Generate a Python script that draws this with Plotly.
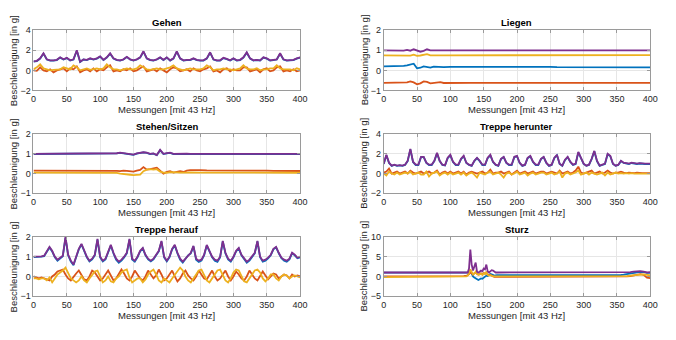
import plotly.graph_objects as go

# ---------------------------------------------------------------- colours
C_X = "#0072BD"   # x-Achse
C_Y = "#D95319"   # y-Achse
C_Z = "#EDB120"   # z-Achse
C_M = "#7E2F8E"   # Betrag

# ---------------------------------------------------------------- Gehen
gehen_t = list(range(0, 401, 5))
gehen_x = [0.88, 0.93, 1.17, 1.67, 1.08, 0.98, 0.98, 1.03, 1.27, 1.08,
           1.22, 0.98, 1.08, 1.96, 0.83, 1.08, 1.03, 1.17, 1.08, 1.17,
           1.37, 1.03, 1.27, 1.66, 1.17, 1.03, 0.98, 1.08, 1.32, 1.08,
           0.98, 1.08, 1.27, 1.86, 1.17, 1.03, 0.98, 1.08, 1.27, 1.03,
           1.27, 0.98, 1.17, 1.86, 1.17, 0.98, 1.03, 1.03, 1.17, 1.03,
           0.98, 0.98, 1.17, 1.76, 1.08, 0.98, 0.98, 1.22, 1.12, 0.98,
           1.17, 0.98, 1.03, 1.27, 1.76, 1.17, 0.98, 1.03, 0.98, 1.27,
           1.17, 0.98, 1.03, 1.08, 1.66, 1.08, 0.98, 0.98, 1.03, 1.17,
           1.27]
gehen_y = [0.0, -0.05, 0.3, 0.0, -0.1, 0.1, -0.2, 0.0, 0.1, 0.2,
           -0.1, 0.2, 0.1, 0.4, -0.2, 0.0, 0.1, -0.1, 0.2, -0.1,
           0.1, 0.0, 0.3, 0.5, -0.1, 0.0, -0.1, 0.1, 0.0, 0.2,
           -0.1, 0.0, 0.2, 0.4, -0.1, 0.0, 0.1, -0.1, 0.2, 0.0,
           -0.2, 0.1, 0.3, 0.2, -0.1, 0.0, 0.1, -0.1, 0.2, 0.0,
           -0.1, 0.1, 0.2, 0.4, -0.1, 0.0, -0.2, 0.1, 0.2, -0.1,
           0.1, 0.0, 0.0, 0.3, 0.3, -0.1, 0.0, 0.1, -0.2, 0.1,
           0.2, -0.1, 0.0, 0.3, 0.4, -0.1, 0.0, -0.1, 0.1, -0.1,
           0.0]
gehen_z = [0.1, 0.3, 0.6, 0.2, 0.1, 0.0, 0.05, 0.1, 0.1, 0.3,
           0.2, 0.1, 0.5, 0.3, 0.0, 0.1, 0.2, 0.05, 0.1, 0.2,
           0.1, 0.2, 0.6, 0.3, 0.1, 0.1, 0.0, 0.1, 0.2, 0.1,
           0.1, 0.2, 0.5, 0.3, 0.1, 0.05, 0.1, 0.2, 0.1, 0.1,
           0.2, 0.3, 0.5, 0.2, 0.1, 0.0, 0.1, 0.2, 0.1, 0.1,
           0.1, 0.2, 0.5, 0.3, 0.0, 0.1, 0.1, 0.2, 0.1, 0.1,
           0.0, 0.1, 0.2, 0.5, 0.2, 0.1, 0.1, 0.2, 0.0, 0.1,
           0.1, 0.2, 0.2, 0.5, 0.2, 0.1, 0.1, 0.1, 0.0, 0.2,
           0.1]
gehen_m = [0.9, 0.95, 1.2, 1.7, 1.1, 1.0, 1.0, 1.05, 1.3, 1.1,
           1.25, 1.0, 1.1, 2.0, 0.85, 1.1, 1.05, 1.2, 1.1, 1.2,
           1.4, 1.05, 1.3, 1.7, 1.2, 1.05, 1.0, 1.1, 1.35, 1.1,
           1.0, 1.1, 1.3, 1.9, 1.2, 1.05, 1.0, 1.1, 1.3, 1.05,
           1.3, 1.0, 1.2, 1.9, 1.2, 1.0, 1.05, 1.05, 1.2, 1.05,
           1.0, 1.0, 1.2, 1.8, 1.1, 1.0, 1.0, 1.25, 1.15, 1.0,
           1.2, 1.0, 1.05, 1.3, 1.8, 1.2, 1.0, 1.05, 1.0, 1.3,
           1.2, 1.0, 1.05, 1.1, 1.7, 1.1, 1.0, 1.0, 1.05, 1.2,
           1.3]

# ---------------------------------------------------------------- Liegen
liegen_t = [0, 10, 20, 30, 35, 40, 45, 50, 55, 60, 65, 70, 75, 80, 85, 90] + list(range(100, 401, 10))
liegen_x = [0.2, 0.2, 0.19, 0.22, 0.25, 0.3, 0.33, 0.1, 0.13, 0.2, 0.18, 0.14, 0.19, 0.17, 0.17, 0.16,
            0.17, 0.17, 0.17, 0.17, 0.17, 0.18, 0.2, 0.17, 0.17, 0.17,
            0.17, 0.17, 0.17, 0.17, 0.17, 0.17, 0.16, 0.16, 0.16, 0.16,
            0.16, 0.16, 0.16, 0.16, 0.16, 0.16, 0.15, 0.15, 0.15, 0.15,
            0.15]
liegen_y = [-0.62, -0.62, -0.62, -0.6, -0.6, -0.55, -0.6, -0.7, -0.65, -0.55, -0.58, -0.65, -0.63, -0.62, -0.59, -0.63,
            -0.62, -0.62, -0.62, -0.62, -0.62, -0.62, -0.62, -0.62, -0.62, -0.62,
            -0.62, -0.62, -0.62, -0.62, -0.62, -0.62, -0.62, -0.62, -0.62, -0.62,
            -0.62, -0.62, -0.62, -0.62, -0.62, -0.62, -0.62, -0.62, -0.62, -0.62,
            -0.62]
liegen_z = [0.75, 0.75, 0.75, 0.75, 0.76, 0.73, 0.78, 0.72, 0.74, 0.76, 0.81, 0.75, 0.74, 0.75, 0.75, 0.75,
            0.75, 0.75, 0.75, 0.75, 0.75, 0.75, 0.75, 0.75, 0.75, 0.75,
            0.75, 0.75, 0.75, 0.75, 0.75, 0.75, 0.75, 0.75, 0.75, 0.75,
            0.75, 0.75, 0.76, 0.76, 0.76, 0.76, 0.76, 0.76, 0.76, 0.76,
            0.76]
liegen_m = [1.0, 1.0, 1.0, 0.98, 1.02, 0.98, 1.05, 1.0, 0.93, 0.97, 1.05, 1.0, 1.0, 0.99, 1.0, 1.0,
            1.0, 1.0, 1.0, 1.0, 1.0, 1.0, 1.0, 1.0, 1.0, 1.0,
            1.0, 1.0, 1.0, 1.0, 1.0, 1.0, 1.0, 1.0, 1.0, 1.0,
            1.0, 1.0, 1.0, 1.0, 1.0, 1.0, 1.0, 1.0, 1.0, 1.0,
            1.0]

# ---------------------------------------------------------------- Stehen/Sitzen
stehen_t = list(range(0, 121, 10)) + list(range(125, 241, 5)) + list(range(250, 401, 10))
stehen_x = [0.99, 0.99, 0.99, 0.99, 0.99, 0.99, 0.99, 0.99, 0.99, 0.99, 0.99, 0.99, 0.99,
            1.02, 1.05, 1.02, 0.99, 0.98, 0.95, 1.01, 1.04, 1.07, 1.05, 0.99, 1.01,
            0.93, 1.18, 0.99, 1.02, 1.05, 0.99, 1.0, 0.99, 0.99, 1.0, 0.99, 0.99,
            0.99, 0.99, 0.99, 0.99, 0.99, 0.99, 0.99, 0.99, 0.99, 0.99, 0.99, 0.99,
            0.99, 0.99, 0.99, 0.99]
stehen_y = [0.15, 0.15, 0.16, 0.15, 0.15, 0.16, 0.16, 0.17, 0.16, 0.16, 0.17, 0.16, 0.15,
            0.14, 0.12, 0.15, 0.14, 0.12, 0.1, 0.15, 0.18, 0.33, 0.2, 0.22, 0.25,
            0.3, 0.15, 0.0, 0.08, 0.12, 0.05, 0.1, 0.12, 0.08, 0.15, 0.17, 0.16,
            0.17, 0.16, 0.16, 0.17, 0.17, 0.16, 0.16, 0.18, 0.17, 0.16, 0.15, 0.14,
            0.14, 0.13, 0.13, 0.13]
stehen_z = [0.05, 0.05, 0.04, 0.05, 0.05, 0.05, 0.06, 0.06, 0.05, 0.05, 0.06, 0.05, 0.05,
            0.03, 0.0, -0.03, -0.05, -0.06, -0.08, -0.07, -0.05, 0.12, 0.2, 0.22, 0.2,
            0.22, 0.1, 0.05, 0.04, 0.07, 0.05, 0.06, 0.05, 0.04, 0.05, 0.06, 0.05,
            0.05, 0.05, 0.05, 0.04, 0.04, 0.05, 0.05, 0.05, 0.05, 0.05, 0.04, 0.04,
            0.05, 0.04, 0.04, 0.04]
stehen_m = [1.0, 1.0, 1.0, 1.0, 1.0, 1.0, 1.0, 1.0, 1.0, 1.0, 1.0, 1.0, 1.0,
            1.03, 1.06, 1.03, 1.0, 0.99, 0.96, 1.02, 1.05, 1.08, 1.06, 1.0, 1.02,
            0.94, 1.2, 1.0, 1.03, 1.06, 1.0, 1.01, 1.0, 1.0, 1.01, 1.0, 1.0,
            1.0, 1.0, 1.0, 1.0, 1.0, 1.0, 1.0, 1.0, 1.0, 1.0, 1.0, 1.0,
            1.0, 1.0, 1.0, 1.0]

# ---------------------------------------------------------------- Treppe herunter
runter_t = list(range(0, 401, 4))
runter_x = [0.97, 1.85, 1.07, 0.78, 0.87, 0.78, 0.82, 0.78, 0.87, 1.26,
            2.45, 1.17, 0.87, 0.87, 1.66, 1.66, 1.07, 0.87, 0.87, 1.26,
            2.05, 1.26, 0.87, 0.82, 1.56, 1.85, 1.17, 0.87, 0.87, 1.46,
            1.75, 1.07, 0.87, 0.78, 1.26, 1.56, 1.26, 0.87, 0.87, 1.56,
            1.85, 1.17, 0.87, 0.78, 1.46, 1.66, 1.07, 0.87, 0.87, 1.66,
            1.75, 1.07, 0.78, 0.87, 1.56, 1.75, 1.17, 0.87, 0.87, 1.46,
            1.66, 1.07, 0.78, 0.87, 1.56, 1.85, 0.97, 0.78, 1.36, 1.66,
            1.17, 0.87, 0.97, 2.15, 1.56, 0.97, 0.78, 0.87, 1.46, 2.25,
            1.26, 0.78, 0.87, 0.97, 1.95, 1.75, 0.97, 0.78, 0.87, 1.26,
            1.07, 1.02, 0.97, 1.07, 1.02, 0.97, 1.02, 0.97, 0.97, 0.97,
            0.97]
runter_y = [0.1, 0.2, 0.5, 0.0, 0.1, 0.2, 0.0, 0.1, 0.2, 0.0,
            0.3, 0.1, 0.0, 0.1, 0.2, 0.0, 0.1, 0.2, 0.0, 0.1,
            0.3, -0.1, 0.1, 0.2, 0.0, 0.2, 0.0, 0.1, 0.2, 0.0,
            0.2, -0.1, 0.1, 0.2, 0.1, 0.0, 0.1, 0.2, 0.0, 0.1,
            0.4, 0.0, 0.1, 0.1, 0.2, 0.0, 0.1, 0.2, -0.1, 0.1,
            0.3, 0.0, 0.1, 0.2, 0.0, 0.1, 0.2, 0.0, 0.1, 0.2,
            0.2, 0.0, 0.1, 0.2, 0.1, 0.0, 0.3, 0.0, 0.1, 0.2,
            0.0, 0.1, 0.3, 0.7, 0.1, 0.0, 0.1, 0.2, 0.3, 0.0,
            0.1, 0.2, 0.0, 0.1, 0.3, 0.1, 0.0, 0.1, 0.1, 0.2,
            0.1, 0.05, 0.1, 0.05, 0.05, 0.1, 0.05, 0.05, 0.05, 0.05,
            0.05]
runter_z = [0.0, -0.2, 0.2, 0.0, -0.1, 0.1, -0.1, 0.0, 0.1, 0.0,
            0.2, -0.1, 0.0, 0.1, -0.1, -0.1, 0.2, -0.3, 0.0, 0.1,
            0.2, -0.2, 0.0, 0.1, -0.1, 0.1, -0.1, 0.0, 0.1, -0.1,
            0.1, -0.2, 0.0, 0.1, -0.1, -0.4, 0.1, 0.0, -0.1, 0.1,
            0.2, -0.1, 0.0, 0.1, -0.1, -0.4, 0.0, 0.1, -0.1, 0.0,
            0.2, -0.1, 0.0, 0.1, -0.2, 0.0, 0.1, -0.1, 0.0, 0.1,
            0.1, -0.1, 0.0, 0.1, -0.1, 0.0, 0.2, -0.4, 0.0, 0.1,
            -0.1, 0.0, 0.1, 0.3, -0.1, 0.0, 0.1, -0.1, 0.1, 0.0,
            -0.1, 0.0, 0.1, -0.2, 0.1, -0.1, 0.0, 0.1, 0.0, 0.05,
            0.0, 0.05, 0.0, 0.05, 0.0, 0.0, 0.05, 0.0, 0.0, 0.0,
            0.0]
runter_m = [1.0, 1.9, 1.1, 0.8, 0.9, 0.8, 0.85, 0.8, 0.9, 1.3,
            2.5, 1.2, 0.9, 0.9, 1.7, 1.7, 1.1, 0.9, 0.9, 1.3,
            2.1, 1.3, 0.9, 0.85, 1.6, 1.9, 1.2, 0.9, 0.9, 1.5,
            1.8, 1.1, 0.9, 0.8, 1.3, 1.6, 1.3, 0.9, 0.9, 1.6,
            1.9, 1.2, 0.9, 0.8, 1.5, 1.7, 1.1, 0.9, 0.9, 1.7,
            1.8, 1.1, 0.8, 0.9, 1.6, 1.8, 1.2, 0.9, 0.9, 1.5,
            1.7, 1.1, 0.8, 0.9, 1.6, 1.9, 1.0, 0.8, 1.4, 1.7,
            1.2, 0.9, 1.0, 2.2, 1.6, 1.0, 0.8, 0.9, 1.5, 2.3,
            1.3, 0.8, 0.9, 1.0, 2.0, 1.8, 1.0, 0.8, 0.9, 1.3,
            1.1, 1.05, 1.0, 1.1, 1.05, 1.0, 1.05, 1.0, 1.0, 1.0,
            1.0]

# ---------------------------------------------------------------- Treppe herauf
rauf_t = list(range(0, 401, 4))
rauf_x = [0.98, 0.98, 0.98, 1.0, 1.03, 1.27, 1.47, 1.27, 0.97, 0.8,
          0.92, 1.02, 1.95, 1.07, 0.76, 0.57, 0.97, 1.37, 1.62, 1.27,
          0.97, 0.76, 0.86, 1.07, 1.86, 0.97, 0.76, 0.86, 1.26, 1.57,
          1.16, 0.84, 0.69, 0.8, 0.96, 1.17, 1.86, 0.86, 0.75, 0.97,
          1.27, 1.42, 1.07, 0.86, 0.76, 0.86, 1.07, 1.27, 1.76, 0.97,
          0.76, 0.97, 1.37, 1.57, 1.17, 0.85, 0.7, 0.86, 1.07, 1.17,
          1.52, 0.85, 0.74, 0.8, 1.07, 1.57, 1.27, 0.97, 0.8, 0.74,
          0.96, 1.77, 1.17, 0.86, 0.75, 0.97, 1.27, 1.42, 1.07, 0.86,
          0.69, 0.8, 0.97, 1.17, 1.77, 0.97, 0.75, 0.8, 0.92, 1.07,
          1.37, 1.47, 1.17, 0.92, 0.8, 0.75, 0.86, 1.17, 1.07, 0.92,
          0.97]
rauf_y = [0.0, -0.05, -0.1, -0.05, -0.1, -0.15, -0.2, 0.0, 0.1, 0.25,
          0.3, 0.35, 0.1, -0.1, -0.2, 0.0, 0.15, 0.3, 0.1, -0.15,
          -0.2, 0.0, 0.3, 0.2, 0.0, -0.2, -0.1, 0.1, 0.3, 0.05,
          -0.2, -0.1, 0.1, 0.35, 0.15, -0.1, -0.2, 0.0, 0.3, 0.1,
          -0.1, -0.2, 0.0, 0.3, 0.1, -0.1, 0.05, 0.35, 0.1, -0.2,
          -0.1, 0.1, 0.3, 0.0, -0.25, -0.1, 0.15, 0.3, 0.05, -0.1,
          -0.2, 0.0, 0.3, 0.1, -0.1, -0.15, 0.1, 0.3, 0.0, -0.2,
          -0.1, 0.1, 0.3, 0.0, -0.2, 0.0, 0.25, 0.1, -0.1, -0.2,
          0.0, 0.3, 0.1, -0.1, -0.2, 0.0, 0.25, 0.05, -0.15, 0.0,
          0.15, 0.1, -0.1, 0.0, 0.1, 0.05, -0.1, 0.1, 0.0, 0.05,
          0.0]
rauf_z = [-0.1, -0.1, -0.15, -0.1, -0.1, -0.2, -0.05, -0.3, -0.1, 0.1,
          0.2, 0.3, 0.45, 0.2, -0.1, -0.2, -0.3, -0.2, 0.0, -0.2,
          -0.3, -0.1, 0.1, 0.25, 0.3, 0.0, -0.3, -0.2, 0.0, -0.25,
          -0.3, -0.1, 0.0, 0.2, 0.3, 0.35, -0.05, -0.3, -0.2, -0.1,
          -0.1, -0.3, -0.15, 0.1, 0.25, 0.35, 0.1, -0.2, -0.3, -0.1,
          -0.2, -0.3, -0.1, 0.1, 0.3, 0.45, 0.3, 0.0, -0.2, -0.3,
          -0.1, 0.1, 0.3, 0.35, 0.1, -0.2, -0.3, -0.1, 0.1, 0.3,
          0.35, 0.1, -0.2, -0.3, -0.1, 0.2, 0.35, 0.3, 0.0, -0.25,
          -0.3, -0.1, 0.1, 0.3, 0.35, 0.2, -0.1, -0.25, -0.1, 0.1,
          0.1, -0.1, -0.2, 0.0, 0.1, 0.05, -0.1, 0.0, 0.05, 0.0,
          -0.05]
rauf_m = [1.0, 1.0, 1.0, 1.02, 1.05, 1.3, 1.5, 1.3, 1.0, 0.85,
          0.95, 1.05, 2.0, 1.1, 0.8, 0.6, 1.0, 1.4, 1.65, 1.3,
          1.0, 0.8, 0.9, 1.1, 1.9, 1.0, 0.8, 0.9, 1.3, 1.6,
          1.2, 0.9, 0.75, 0.85, 1.0, 1.2, 1.9, 0.9, 0.8, 1.0,
          1.3, 1.45, 1.1, 0.9, 0.8, 0.9, 1.1, 1.3, 1.8, 1.0,
          0.8, 1.0, 1.4, 1.6, 1.2, 0.9, 0.75, 0.9, 1.1, 1.2,
          1.55, 0.9, 0.8, 0.85, 1.1, 1.6, 1.3, 1.0, 0.85, 0.8,
          1.0, 1.8, 1.2, 0.9, 0.8, 1.0, 1.3, 1.45, 1.1, 0.9,
          0.75, 0.85, 1.0, 1.2, 1.8, 1.0, 0.8, 0.85, 0.95, 1.1,
          1.4, 1.5, 1.2, 0.95, 0.85, 0.8, 0.9, 1.2, 1.1, 0.95,
          1.0]

# ---------------------------------------------------------------- Sturz
sturz_t = (list(range(0, 121, 10)) + list(range(124, 171, 2))
           + list(range(180, 351, 10)) + list(range(355, 401, 5)))
sturz_x = [0.98, 0.98, 0.98, 0.98, 0.98, 0.98, 0.98, 0.98, 0.98, 0.98, 0.93, 0.88, 0.88,
           0.85, 0.9, 1.0, 1.5, 0.5, 0.0, -0.3, -0.5, -0.8, -0.9, -0.7, -0.5,
           -0.6, -0.3, 0.0, 0.2, 0.1, 0.3, 0.6, 0.5, 0.3, 0.2, 0.25, 0.3,
           0.3, 0.3, 0.28, 0.28, 0.27, 0.27, 0.26, 0.26, 0.25, 0.25, 0.25, 0.25,
           0.25, 0.25, 0.26, 0.26, 0.27, 0.3,
           0.35, 0.45, 0.6, 0.75, 0.9, 1.05, 1.15, 1.1, 0.9, 0.9]
sturz_y = [0.0, 0.0, 0.0, 0.0, 0.0, 0.0, 0.0, 0.0, 0.0, 0.0, -0.05, 0.0, 0.1,
           0.2, 0.3, 0.6, 1.0, 0.8, 0.5, 0.8, 1.0, 0.7, 0.5, 0.6, 0.8,
           0.5, 0.9, 0.7, 1.0, 0.5, 0.3, 0.4, 0.2, 0.0, -0.1, -0.1, -0.1,
           -0.1, -0.1, -0.12, -0.12, -0.12, -0.12, -0.12, -0.12, -0.12, -0.12, -0.12, -0.12,
           -0.12, -0.12, -0.12, -0.15, -0.15, -0.15,
           -0.15, -0.1, 0.0, 0.1, 0.3, 0.5, 0.6, 0.4, -0.3, -0.4]
sturz_z = [-0.15, -0.15, -0.15, -0.15, -0.15, -0.15, -0.15, -0.15, -0.15, -0.15, -0.15, -0.1, -0.05,
           0.0, 0.2, 0.8, 1.8, 1.0, 0.5, 0.7, 1.2, 0.6, 0.4, 0.5, 0.7,
           0.4, 0.8, 0.6, 1.2, 0.4, 0.2, 0.3, 0.1, 0.0, 0.0, 0.0, 0.0,
           0.0, 0.0, 0.0, 0.0, 0.0, 0.0, 0.0, 0.0, 0.0, 0.0, 0.0, 0.0,
           0.0, 0.0, 0.0, 0.0, 0.0, 0.0,
           0.0, 0.05, 0.1, 0.2, 0.3, 0.4, 0.4, 0.5, 0.4, 0.3]
sturz_m = [1.0, 1.0, 1.0, 1.0, 1.0, 1.0, 1.0, 1.0, 1.0, 1.0, 0.95, 0.9, 0.9,
           0.9, 1.0, 2.0, 6.8, 3.0, 1.5, 2.5, 3.5, 1.2, 1.0, 1.2, 1.5,
           1.3, 2.0, 1.8, 3.0, 1.3, 1.0, 1.3, 1.6, 1.5, 1.2, 1.0, 1.0,
           1.0, 1.0, 1.0, 1.0, 1.0, 1.0, 1.0, 1.0, 1.0, 1.0, 1.0, 1.0,
           1.0, 1.0, 1.0, 1.0, 1.0, 1.0,
           1.0, 1.0, 1.05, 1.1, 1.2, 1.3, 1.35, 1.2, 1.0, 1.1]

# ---------------------------------------------------------------- panels
# (title, t, x, y, z, |a|, y-range, y-ticks, column, row)
panels = [
    ("Gehen", gehen_t, gehen_x, gehen_y, gehen_z, gehen_m, [-2, 4], [-2, 0, 2, 4], 0, 0),
    ("Liegen", liegen_t, liegen_x, liegen_y, liegen_z, liegen_m, [-1, 2], [-1, 0, 1, 2], 1, 0),
    ("Stehen/Sitzen", stehen_t, stehen_x, stehen_y, stehen_z, stehen_m, [-1, 2], [-1, 0, 1, 2], 0, 1),
    ("Treppe herunter", runter_t, runter_x, runter_y, runter_z, runter_m, [-2, 4], [-2, 0, 2, 4], 1, 1),
    ("Treppe herauf", rauf_t, rauf_x, rauf_y, rauf_z, rauf_m, [-1, 2], [-1, 0, 1, 2], 0, 2),
    ("Sturz", sturz_t, sturz_x, sturz_y, sturz_z, sturz_m, [-5, 10], [-5, 0, 5, 10], 1, 2),
]

x_ticks = list(range(0, 401, 50))

W, H = 676, 340
col_px = [(31, 302), (387, 658)]
row_px = [(26, 88), (133, 194), (239, 300)]

FONT = "Liberation Sans, Arial, Helvetica, sans-serif"
AX_COL = "#262626"
BOX_COL = "#9a9a9a"
GRID_COL = "#e6e6e6"

fig = go.Figure()
layout = dict(
    width=W, height=H,
    margin=dict(l=0, r=0, t=0, b=0),
    paper_bgcolor="white", plot_bgcolor="white",
    showlegend=False,
    font=dict(family=FONT, size=9, color=AX_COL),
    annotations=[],
)

for i, (title, t, ax, ay, az, am, yr, yt, c, r) in enumerate(panels):
    for s in (ax, ay, az, am):
        assert len(s) == len(t), (title, len(s), len(t))
    n = "" if i == 0 else str(i + 1)
    x0, x1 = col_px[c]
    y0, y1 = row_px[r]
    xd = [x0 / W, x1 / W]
    yd = [1 - y1 / H, 1 - y0 / H]
    for vals, col in ((ax, C_X), (ay, C_Y), (az, C_Z), (am, C_M)):
        fig.add_trace(go.Scatter(
            x=t, y=vals, mode="lines", xaxis="x" + n, yaxis="y" + n,
            line=dict(color=col, width=1.8), hoverinfo="skip"))
    axis_style = dict(
        showgrid=True, gridcolor=GRID_COL, gridwidth=1, zeroline=False,
        showline=True, linecolor=BOX_COL, linewidth=1, mirror="ticks",
        ticks="inside", ticklen=3, tickcolor=BOX_COL,
        tickfont=dict(size=9, color=AX_COL, family=FONT))
    layout["xaxis" + n] = dict(domain=xd, anchor="y" + n, range=[0, 400],
                               tickvals=x_ticks, **axis_style)
    layout["yaxis" + n] = dict(domain=yd, anchor="x" + n, range=yr,
                               tickvals=yt, **axis_style)
    cx = (xd[0] + xd[1]) / 2
    layout["annotations"].append(dict(
        text="<b>" + title + "</b>", x=cx, y=yd[1], xref="paper", yref="paper",
        xanchor="center", yanchor="bottom", yshift=0, showarrow=False,
        font=dict(size=9.5, color="black", family=FONT)))
    layout["annotations"].append(dict(
        text="Messungen [mit 43 Hz]", x=cx, y=yd[0], xref="paper", yref="paper",
        xanchor="center", yanchor="middle", yshift=-19, showarrow=False,
        font=dict(size=9.5, color=AX_COL, family=FONT)))
    layout["annotations"].append(dict(
        text="Beschleunigung [in g]", x=(x0 - 20) / W, y=(yd[0] + yd[1]) / 2,
        xref="paper", yref="paper", xanchor="center", yanchor="middle",
        textangle=-90, showarrow=False,
        font=dict(size=9.5, color=AX_COL, family=FONT)))

fig.update_layout(**layout)
fig.write_html("out.html")
